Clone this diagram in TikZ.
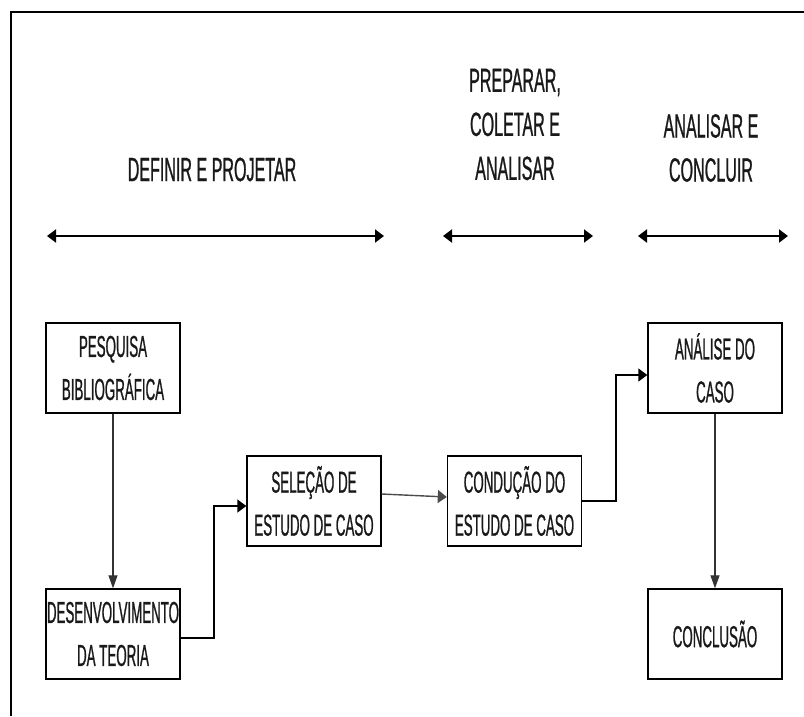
\documentclass[tikz,border=0pt]{standalone}
\usepackage{fontspec}
\setmainfont{Liberation Sans}
\newfontfamily\hdfont{Liberation Sans}[FakeStretch=0.48,FakeBold=0.7]
\newfontfamily\bxfont{Liberation Sans}[FakeStretch=0.44,FakeBold=0.7]
\usetikzlibrary{arrows.meta,calc}
\begin{document}
\begin{tikzpicture}[x=1pt,y=-1pt,
  hdtext/.style={align=center,inner sep=0pt,text=black!90,
    font=\hdfont\fontsize{33.5}{44}\selectfont},
  stagebox/.style={draw,line width=1.4pt,minimum width=134pt,minimum height=90pt,
    inner sep=0pt,align=center,text=black!90,
    font=\bxfont\fontsize{30.3}{43}\selectfont},
  harrow/.style={line width=2pt,{Triangle[length=9pt,width=13pt]}-{Triangle[length=9pt,width=13pt]}},
  vconn/.style={line width=1.2pt,draw=black!80,-{Triangle[length=13pt,width=9pt]}},
  econn/.style={line width=1.6pt,-{Triangle[length=9pt,width=13pt]}},
  sconn/.style={line width=1.4pt,draw=black!70,-{Triangle[length=9pt,width=13pt]}}
]
\useasboundingbox (0,0) rectangle (804,716);
\fill[white] (0,0) rectangle (804,716);
% frame (cropped)
\draw[line width=2pt] (804,12) -- (11,12) -- (11,716);

% phase headers
\node[hdtext] (h1) at (212,169.5) {DEFINIR E PROJETAR};
\node[hdtext] (h2) at (515,124.5) {PREPARAR,\\COLETAR E\\ANALISAR};
\node[hdtext] (h3) at (711,148) {ANALISAR E\\CONCLUIR};

% phase arrows
\coordinate (a1l) at (47,236);  \coordinate (a1r) at (384,236);
\coordinate (a2l) at (443,236); \coordinate (a2r) at (593,236);
\coordinate (a3l) at (638,236); \coordinate (a3r) at (788,236);
\draw[harrow] (a1l) -- (a1r);
\draw[harrow] (a2l) -- (a2r);
\draw[harrow] (a3l) -- (a3r);

% stage boxes
\node[stagebox] (pb) at (113,368) {PESQUISA\\BIBLIOGRÁFICA};
\node[stagebox] (dt) at (113,634) {DESENVOLVIMENTO\\DA TEORIA};
\node[stagebox] (se) at (314,501) {SELEÇÃO DE\\ESTUDO DE CASO};
\node[stagebox] (ce) at (514.5,501) {CONDUÇÃO DO\\ESTUDO DE CASO};
\node[stagebox] (ac) at (715,368) {ANÁLISE DO\\CASO};
\node[stagebox] (co) at (715,634) {CONCLUSÃO};

% connectors
\draw[vconn] (pb) -- (dt);
\draw[econn] ($(dt.east)+(0,4)$) -- ++(33,0) |- ($(se.west)+(0,5)$);
\draw[sconn] ($(se.east)+(0,-7)$) -- ($(ce.west)+(0,-4)$);
\draw[econn] (ce.east) -- ++(34,0) |- ($(ac.west)+(0,7)$);
\draw[vconn] (ac) -- (co);
\end{tikzpicture}
\end{document}
